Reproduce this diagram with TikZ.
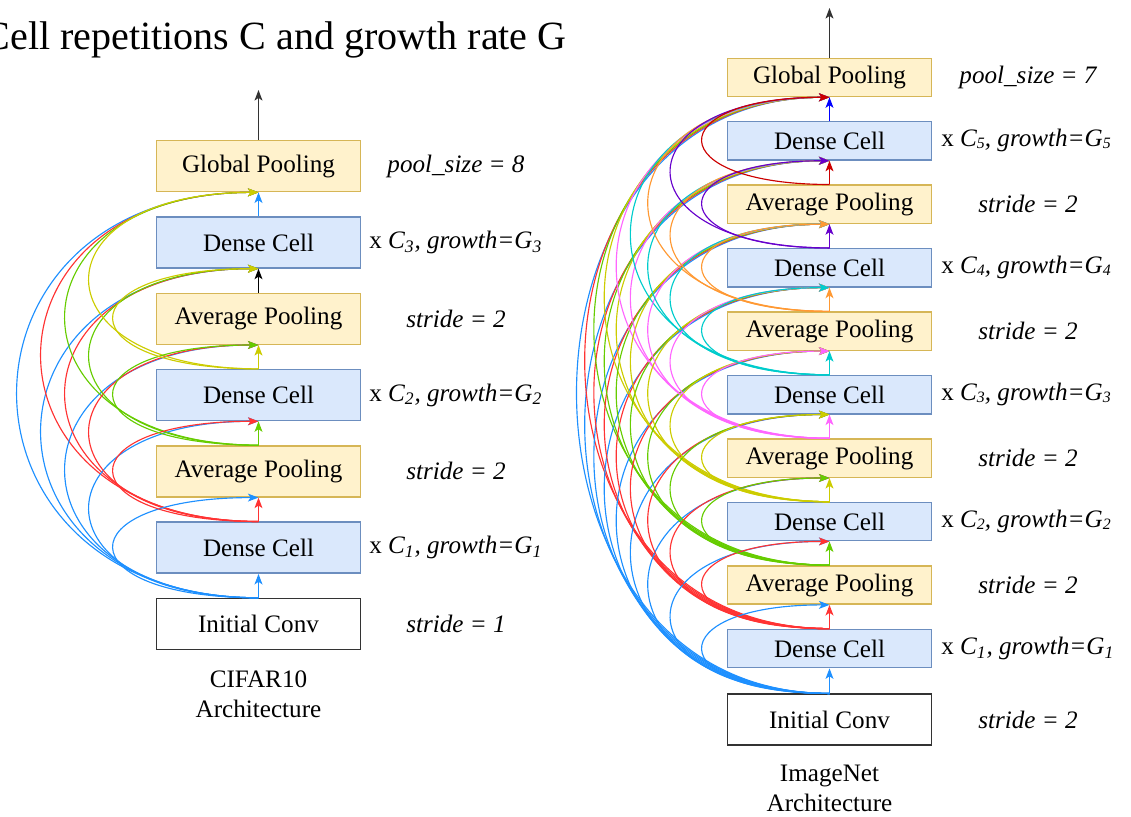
\documentclass[tikz,border=0pt]{standalone}
\usepackage{fontspec}
\setmainfont{Liberation Serif}
\usetikzlibrary{arrows.meta}

\definecolor{cellfill}{HTML}{DAE8FC}
\definecolor{celledge}{HTML}{6C8EBF}
\definecolor{poolfill}{HTML}{FFF2CC}
\definecolor{pooledge}{HTML}{D6B656}
\definecolor{kblue}{HTML}{1E90FF}
\definecolor{kred}{HTML}{FF3333}
\definecolor{kgreen}{HTML}{66CC00}
\definecolor{kolive}{HTML}{CCCC00}
\definecolor{kpink}{HTML}{FF66FF}
\definecolor{kcyan}{HTML}{00CCCC}
\definecolor{korange}{HTML}{FF9933}
\definecolor{kviolet}{HTML}{6600CC}
\definecolor{kdred}{HTML}{CC0000}
\definecolor{kdblue}{HTML}{0000FF}

% small index digit, kept close to the baseline
\newcommand{\smallidx}[1]{\raisebox{-0.15ex}{\fontsize{9}{9}\selectfont #1}}

\begin{document}
\begin{tikzpicture}[font=\fontsize{14.3}{17}\selectfont,
  >={Stealth[length=6pt,width=4.5pt,inset=1.5pt]},
  cellbox/.style={draw=celledge, line width=0.8pt, fill=cellfill, minimum width=4.08cm, minimum height=1.02cm},
  poolbox/.style={cellbox, draw=pooledge, fill=poolfill},
  convbox/.style={cellbox, draw=black!80, fill=white},
  lowbox/.style={minimum height=0.766cm},
  note/.style={font=\fontsize{14.3}{17}\selectfont\itshape},
  rep/.style={anchor=west, inner sep=0pt},
  hop/.style={->, line width=0.65pt}]
\useasboundingbox (0,0) rectangle (22.62,16.34);

\node[font=\fontsize{22.8}{27}\selectfont, anchor=base east, inner sep=0pt] (title) at (11.34,15.34) {Cell repetitions C and growth rate G};

% CIFAR10 stack
\node[convbox] (c0) at (5.17,3.86) {Initial Conv};
\node[cellbox] (c1) at (5.17,5.386) {Dense Cell};
\node[poolbox] (c2) at (5.17,6.912) {Average Pooling};
\node[cellbox] (c3) at (5.17,8.438) {Dense Cell};
\node[poolbox] (c4) at (5.17,9.964) {Average Pooling};
\node[cellbox] (c5) at (5.17,11.49) {Dense Cell};
\node[poolbox] (c6) at (5.17,13.016) {Global Pooling};
\coordinate (cout) at (5.17,14.54);

\node[note] (c0n) at (9.12,3.86) {stride = 1};
\node[rep] (c1n) at (7.38,5.386) {x \textit{C\textsubscript{1}, growth=G\textsubscript{1}}};
\node[note] (c2n) at (9.12,6.912) {stride = 2};
\node[rep] (c3n) at (7.38,8.438) {x \textit{C\textsubscript{2}, growth=G\textsubscript{2}}};
\node[note] (c4n) at (9.12,9.964) {stride = 2};
\node[rep] (c5n) at (7.38,11.49) {x \textit{C\textsubscript{3}, growth=G\textsubscript{3}}};
\node[note] (c6n) at (9.12,13.016) {pool\_size = 8};
\node[align=center] (ccap) at (5.17,2.45) {CIFAR10\\Architecture};

% skip links, longest first so the short ones end on top
\foreach \s in {6,5,...,2}
  \foreach \i/\col in {0/kblue,1/kred,2/kgreen,3/kolive}{
    \pgfmathtruncatemacro{\j}{\i+\s}
    \ifnum\j<7
      \pgfmathsetmacro{\a}{(145+24*(\s-2))/37.5}
      \draw[hop,\col] (c\i.north) .. controls +(-\a,0) and +(-\a,0) .. (c\j.south);
    \fi
  }
\foreach \i/\col in {0/kblue,1/kred,2/kgreen,3/kolive,4/black,5/kblue}{
  \pgfmathtruncatemacro{\j}{\i+1}
  \draw[hop,\col] (c\i.north) -- (c\j.south);
}
\draw[hop,black!80] (c6.north) -- (cout);

% ImageNet stack
\node[convbox] (m0) at (16.59,1.947) {Initial Conv};
\node[cellbox,lowbox] (m1) at (16.59,3.37) {Dense Cell};
\node[poolbox,lowbox] (m2) at (16.59,4.639) {Average Pooling};
\node[cellbox,lowbox] (m3) at (16.59,5.908) {Dense Cell};
\node[poolbox,lowbox] (m4) at (16.59,7.177) {Average Pooling};
\node[cellbox,lowbox] (m5) at (16.59,8.446) {Dense Cell};
\node[poolbox,lowbox] (m6) at (16.59,9.715) {Average Pooling};
\node[cellbox,lowbox] (m7) at (16.59,10.984) {Dense Cell};
\node[poolbox,lowbox] (m8) at (16.59,12.253) {Average Pooling};
\node[cellbox,lowbox] (m9) at (16.59,13.522) {Dense Cell};
\node[poolbox,lowbox] (m10) at (16.59,14.791) {Global Pooling};
\coordinate (mout) at (16.59,16.18);

\node[note] (m0n) at (20.56,1.947) {stride = 2};
\node[rep] (m1n) at (18.82,3.37) {x \textit{C\textsubscript{1}, growth=G\textsubscript{1}}};
\node[note] (m2n) at (20.56,4.639) {stride = 2};
\node[rep] (m3n) at (18.82,5.908) {x \textit{C\smallidx{2}, growth=G\smallidx{2}}};
\node[note] (m4n) at (20.56,7.177) {stride = 2};
\node[rep] (m5n) at (18.82,8.446) {x \textit{C\smallidx{3}, growth=G\smallidx{3}}};
\node[note] (m6n) at (20.56,9.715) {stride = 2};
\node[rep] (m7n) at (18.82,10.984) {x \textit{C\smallidx{4}, growth=G\smallidx{4}}};
\node[note] (m8n) at (20.56,12.253) {stride = 2};
\node[rep] (m9n) at (18.82,13.522) {x \textit{C\smallidx{5}, growth=G\smallidx{5}}};
\node[note] (m10n) at (20.56,14.791) {pool\_size = 7};
\node[align=center] (mcap) at (16.59,0.57) {ImageNet\\Architecture};

\foreach \s in {10,9,...,2}
  \foreach \i/\col in {0/kblue,1/kred,2/kgreen,3/kolive,4/kpink,5/kcyan,6/korange,7/kviolet,8/kdred}{
    \pgfmathtruncatemacro{\j}{\i+\s}
    \ifnum\j<11
      \pgfmathsetmacro{\a}{(127+77.7*ln(\s/2))/37.5}
      \draw[hop,\col] (m\i.north) .. controls +(-\a,0) and +(-\a,0) .. (m\j.south);
    \fi
  }
\foreach \i/\col in {0/kblue,1/kred,2/kgreen,3/kolive,4/kpink,5/kcyan,6/korange,7/kviolet,8/kdred,9/kdblue}{
  \pgfmathtruncatemacro{\j}{\i+1}
  \draw[hop,\col] (m\i.north) -- (m\j.south);
}
\draw[hop,black!80] (m10.north) -- (mout);
\end{tikzpicture}
\end{document}
